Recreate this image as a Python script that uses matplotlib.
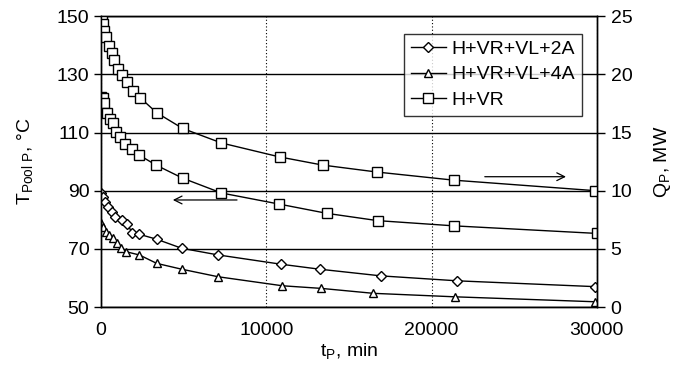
import matplotlib
matplotlib.use("Agg")
import matplotlib.pyplot as plt

plt.rcParams['font.family'] = ['Liberation Sans', 'DejaVu Sans']

# H+VR, heat power Q (right axis)
t_q_vr = [40, 140, 200, 280, 480, 650, 800, 1040, 1290, 1590, 1950, 2350, 3360, 4930, 7280, 10800, 13400, 16700, 21360, 29900]
q_vr = [24.9, 24.3, 23.7, 23.2, 22.4, 21.8, 21.2, 20.5, 19.9, 19.3, 18.6, 18.0, 16.7, 15.35, 14.1, 12.9, 12.2, 11.6, 10.9, 10.0]

# H+VR, pool temperature (left axis)
t_t_vr = [0, 100, 180, 380, 540, 740, 900, 1150, 1450, 1850, 2310, 3320, 4930, 7280, 10760, 13660, 16730, 21360, 30000]
T_vr = [122.3, 121.7, 120.0, 116.6, 114.8, 113.1, 110.2, 108.5, 106.2, 104.2, 102.2, 98.8, 94.3, 89.2, 85.4, 82.2, 79.7, 77.9, 75.3]

# H+VR+VL+2A
t_2a = [0, 100, 240, 440, 650, 840, 1250, 1590, 1890, 2310, 3360, 4870, 7080, 10900, 13220, 16940, 21560, 29900]
T_2a = [89.3, 87.7, 86.2, 84.5, 82.5, 81.0, 79.9, 78.5, 75.3, 75.0, 73.3, 70.2, 67.9, 64.7, 63.0, 60.7, 59.0, 57.0]

# H+VR+VL+4A
t_4a = [0, 100, 300, 500, 710, 950, 1190, 1510, 2310, 3360, 4870, 7080, 10970, 13320, 16480, 21420, 29910]
T_4a = [78.8, 77.4, 75.9, 74.8, 73.6, 71.9, 70.2, 69.0, 67.9, 65.0, 63.0, 60.4, 57.3, 56.4, 54.7, 53.5, 51.8]

x_ticks = [0, 10000, 20000, 30000]
y_ticks = [50, 70, 90, 110, 130, 150]
q_ticks = [0, 5, 10, 15, 20, 25]

FS = 14

fig = plt.figure(figsize=(6.79, 3.76), dpi=100)
ax = fig.add_axes([0.149, 0.1835, 0.73, 0.7735])
ax2 = ax.twinx()

mk = dict(color='black', lw=1.0, markerfacecolor='white', markeredgecolor='black', markeredgewidth=1.0)
l1, = ax.plot(t_2a, T_2a, marker='D', markersize=5, label='H+VR+VL+2A', **mk)
l2, = ax.plot(t_4a, T_4a, marker='^', markersize=6, label='H+VR+VL+4A', **mk)
l3, = ax.plot(t_t_vr, T_vr, marker='s', markersize=6.5, label='H+VR', **mk)
ax2.plot(t_q_vr, q_vr, marker='s', markersize=6.5, **mk)

for a in (ax, ax2):
    a.set_xlim(0, 30000)
    for s in a.spines.values():
        s.set_linewidth(1.0)
ax.set_ylim(50, 150)
ax2.set_ylim(0, 25)
ax.set_xticks(x_ticks)
ax.set_yticks(y_ticks)
ax2.set_yticks(q_ticks)

ax.yaxis.grid(True, color='black', lw=1.0)
ax.xaxis.grid(True, color='black', lw=0.8, linestyle=(0, (1, 2)))
ax.set_axisbelow(True)

ax.tick_params(axis='both', labelsize=FS, direction='out', length=5, width=1, colors='black')
ax.tick_params(axis='x', length=0, pad=11)
ax2.tick_params(axis='y', labelsize=FS, direction='out', length=6, width=1, colors='black', pad=4)

ax.set_xlabel(r't$_{\mathregular{P}}$, min', fontsize=FS, labelpad=2)
ax.set_ylabel(r'T$_{\mathregular{Pool\ P}}$, °C', fontsize=FS, labelpad=15)
ax2.set_ylabel(r'Q$_{\mathregular{P}}$, MW', fontsize=FS, labelpad=14)

leg = ax.legend(handles=[l1, l2, l3], loc='upper right', bbox_to_anchor=(0.97, 0.94),
                fontsize=FS, frameon=True, fancybox=False, edgecolor='black',
                borderpad=0.35, handlelength=1.8, handletextpad=0.3, labelspacing=0.4,
                borderaxespad=0.0)
leg.get_frame().set_linewidth(1.0)

ax.annotate('', xy=(4170, 86.8), xytext=(8390, 86.8),
            arrowprops=dict(arrowstyle='->', color='black', lw=0.9, mutation_scale=14))
ax2.annotate('', xy=(28300, 11.2), xytext=(23050, 11.2),
             arrowprops=dict(arrowstyle='->', color='black', lw=0.9, mutation_scale=14))

fig.savefig('out.png', dpi=100)
